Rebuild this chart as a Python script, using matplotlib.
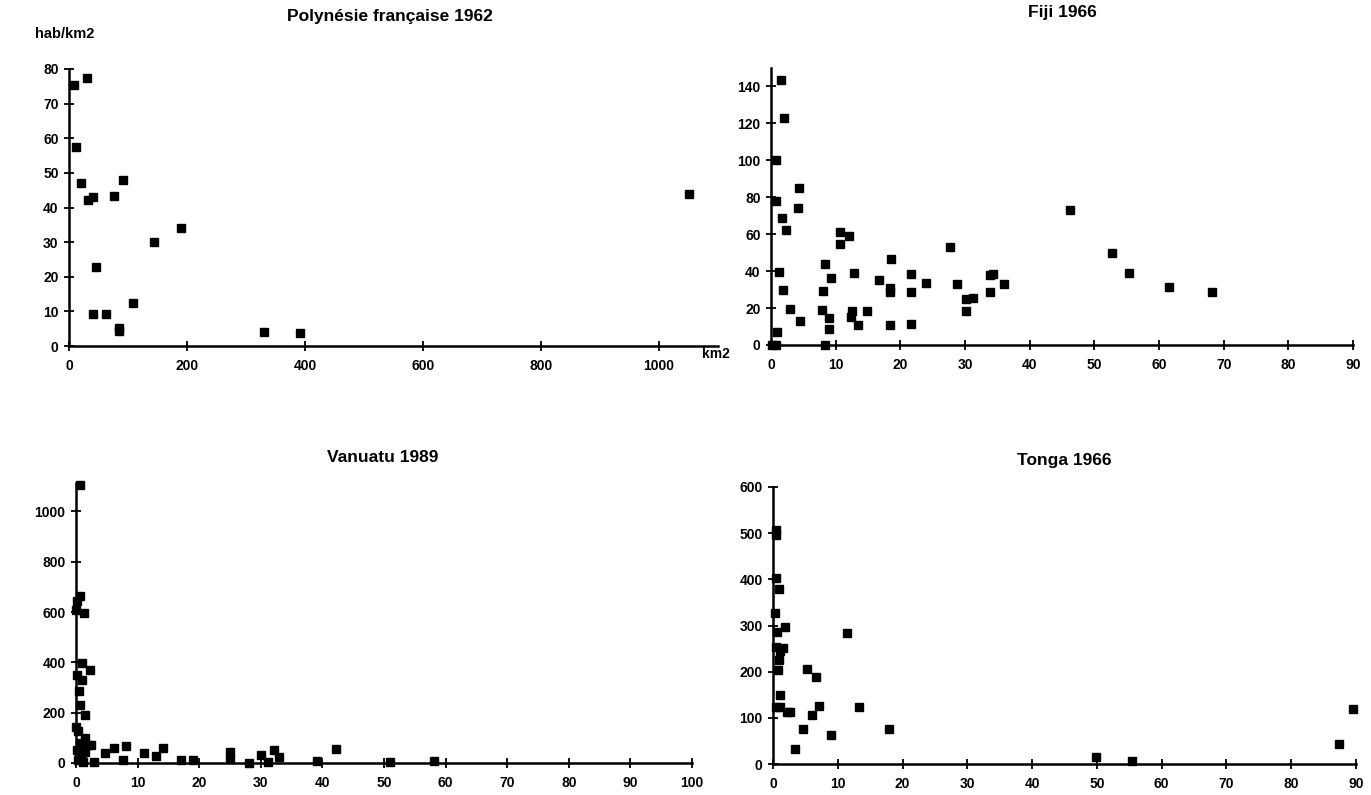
import matplotlib
matplotlib.use("Agg")
import matplotlib.pyplot as plt

plt.rcParams['font.family'] = ['Liberation Sans', 'DejaVu Sans']

# Polynésie française 1962 : superficie (km2), densité (hab/km2)
pf_km2 = [8, 30, 12, 21, 33, 41, 76, 91, 46, 41, 63, 108, 84, 85, 144, 189, 330, 391, 1051]
pf_dens = [75.4, 77.4, 57.6, 47.0, 42.2, 43.0, 43.2, 48.0, 22.8, 9.1, 9.2, 12.5, 5.3, 4.4, 30.0, 34.0, 3.9, 3.8, 43.8]

# Fiji 1966
fj_km2 = [1.5, 2.0, 0.8, 0.8, 1.75, 2.3, 4.4, 4.1, 1.2, 1.9, 3.0, 4.5, 0.9, 0.2, 0.8, 8.3,
          8.1, 8.4, 9.3, 7.9, 8.9, 8.9, 10.7, 10.7, 12.0, 12.8, 12.3, 12.5, 13.5, 14.8,
          16.7, 18.5, 18.4, 18.4, 18.4, 21.7, 21.6, 21.7, 24.0, 27.7, 28.8, 30.2, 30.2,
          31.3, 33.9, 34.3, 33.8, 36.1, 46.2, 52.7, 55.4, 61.6, 68.2]
fj_dens = [143.6, 122.9, 100.3, 78.2, 69.0, 62.3, 84.9, 74.1, 39.4, 30.0, 19.5, 13.0, 7.2, 0, 0, 0,
           29.3, 43.7, 36.3, 19.0, 14.5, 8.5, 61.4, 54.6, 59.1, 38.9, 15.4, 18.4, 10.8, 18.6,
           35.2, 46.8, 30.7, 28.6, 10.8, 38.3, 28.6, 11.6, 33.4, 52.9, 33.1, 24.8, 18.6,
           25.5, 37.9, 38.6, 28.6, 33.1, 73.2, 50.0, 39.2, 31.6, 28.6]

# Vanuatu 1989
va_km2 = [0.65, 0.65, 0.2, 0.0, 1.3, 0.9, 2.2, 0.2, 0.9, 0.5, 0.65, 1.5, 0.0, 0.4, 1.5, 2.5,
          0.2, 0.5, 0.8, 1.0, 1.5, 0.3, 2.0, 1.2, 0.6, 2.9, 4.7, 6.1, 8.1, 7.7, 11.0, 13.0,
          14.2, 17.1, 19.0, 25.0, 25.0, 28.1, 30.0, 31.1, 32.1, 33.0, 39.1, 42.2, 51.0, 58.1]
va_dens = [1106, 662, 642, 609, 598, 397, 368, 351, 328, 285, 232, 189, 145, 126, 99, 73,
           50, 30, 60, 20, 45, 10, 70, 5, 80, 3, 40, 60, 66, 13, 40, 26,
           60, 10, 10, 45, 15, 0, 33, 2, 53, 22, 6, 57, 3, 9]

# Tonga 1966
to_km2 = [0.4, 0.4, 0.5, 0.9, 0.35, 1.9, 0.6, 0.4, 1.6, 1.1, 0.9, 0.7, 1.1, 0.4, 1.1, 2.2,
          2.7, 3.4, 4.7, 5.3, 6.0, 6.6, 7.1, 8.9, 11.4, 13.3, 17.9, 49.9, 55.4, 87.4, 89.6]
to_dens = [506, 496, 402, 379, 327, 297, 286, 254, 252, 245, 225, 203, 149, 124, 123, 113,
           112, 33, 75, 205, 106, 188, 126, 63, 283, 124, 75, 16, 7, 43, 119]

fig = plt.figure(figsize=(13.71, 7.95), dpi=100)
W, H = 1371.0, 795.0


def make_axes(x0, x1, y0, y1):
    # pixel box -> figure fraction (y measured from the top)
    return fig.add_axes([x0 / W, 1 - y1 / H, (x1 - x0) / W, (y1 - y0) / H])


def style(ax, xlim, ylim, xticks, yticks):
    ax.set_xlim(*xlim)
    ax.set_ylim(*ylim)
    ax.set_xticks(xticks)
    ax.set_yticks(yticks)
    for s in ['top', 'right']:
        ax.spines[s].set_visible(False)
    for s in ['left', 'bottom']:
        ax.spines[s].set_linewidth(1.8)
    ax.tick_params(direction='inout', length=7, width=1.3, labelsize=10)
    ax.tick_params(axis='x', pad=6)
    ax.tick_params(axis='y', pad=4)
    for lab in ax.get_xticklabels() + ax.get_yticklabels():
        lab.set_fontweight('bold')
    ax.patch.set_alpha(0)


panels = [
    (pf_km2, pf_dens, (69, 718, 69, 346), (0, 1100), (0, 80), range(0, 1001, 200), range(0, 81, 10)),
    (fj_km2, fj_dens, (771, 1353, 68, 345), (0, 90), (0, 150), range(0, 91, 10), range(0, 141, 20)),
    (va_km2, va_dens, (76, 692, 483, 763), (0, 100), (0, 1113), range(0, 101, 10), range(0, 1001, 200)),
    (to_km2, to_dens, (773, 1356, 487, 764), (0, 90), (0, 600), range(0, 91, 10), range(0, 601, 100)),
]

for xs, ys, box, xl, yl, xt, yt in panels:
    ax = make_axes(*box)
    ax.plot(xs, ys, 's', color='black', markersize=6.2, clip_on=False, zorder=3)
    style(ax, xl, yl, xt, yt)

kw = dict(fontsize=12.5, fontweight='bold', ha='center', va='center')
fig.text(390 / W, 1 - 17 / H, 'Polynésie française 1962', **kw)
fig.text(1062 / W, 1 - 12 / H, 'Fiji 1966', **kw)
fig.text(383 / W, 1 - 457 / H, 'Vanuatu 1989', **kw)
fig.text(1064 / W, 1 - 461 / H, 'Tonga 1966', **kw)

fig.text(65 / W, 1 - 34 / H, 'hab/km2', fontsize=10.5, fontweight='bold', ha='center', va='center')
fig.text(716 / W, 1 - 354 / H, 'km2', fontsize=10, fontweight='bold', ha='center', va='center')

fig.savefig('out.png', dpi=100, facecolor='white')
